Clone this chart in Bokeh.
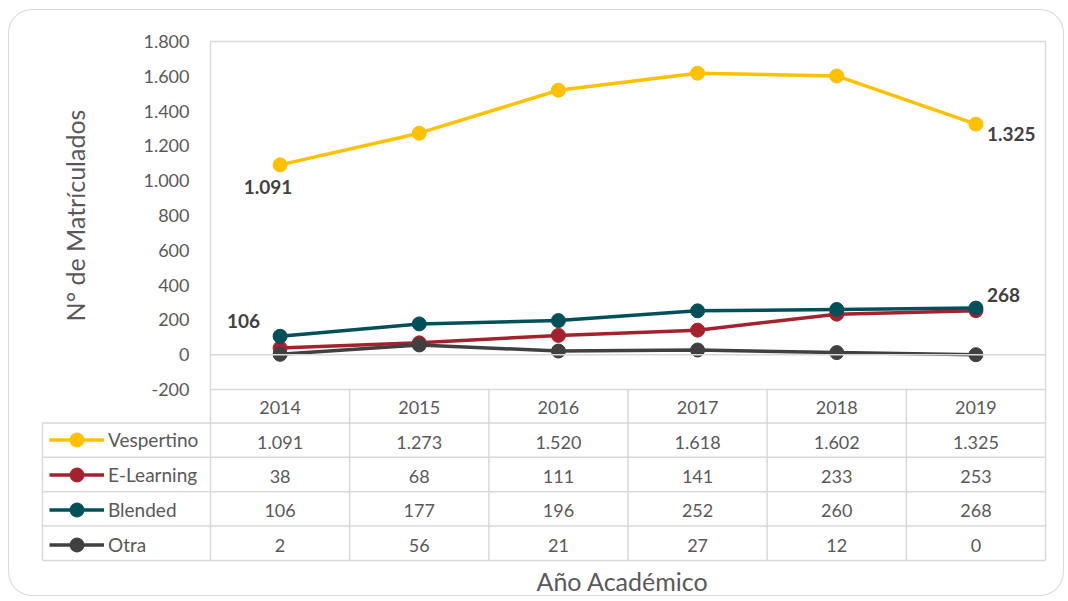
from bokeh.plotting import figure
from bokeh.models import (FactorRange, Range1d, FixedTicker, CustomJSTickFormatter, Span,
                          Legend, LegendItem, ColumnDataSource, Title)
from bokeh.core.properties import value
from bokeh.embed import file_html
from bokeh.resources import INLINE

# ---------------- data ----------------
years = ["2014", "2015", "2016", "2017", "2018", "2019"]
series_names = ["Vespertino", "E-Learning", "Blended", "Otra"]
vespertino = [1091, 1273, 1520, 1618, 1602, 1325]
elearning = [38, 68, 111, 141, 233, 253]
blended = [106, 177, 196, 252, 260, 268]
otra = [2, 56, 21, 27, 12, 0]
y_ticks = [-200, 0, 200, 400, 600, 800, 1000, 1200, 1400, 1600, 1800]
y_title = "N° de Matrículados"
x_title = "Año Académico"

series = [vespertino, elearning, blended, otra]
colors = ["#FFC000", "#A5212E", "#00505A", "#404040"]

FONT = "Lato"
GRID = "#d9d9d9"
TXT = "#595959"
FS = "18px"


def fmt(v):
    return f"{v:,}".replace(",", ".")


# ================= top: line chart =================
top = figure(width=1056, height=390, title=None,
             x_range=FactorRange(factors=years), y_range=Range1d(-200, 1800),
             output_backend="svg", toolbar_location=None,
             min_border_left=201, min_border_right=20, min_border_top=31, min_border_bottom=11)
top.styles = {"border": "1px solid #d9d9d9", "border-bottom": "0px",
              "border-radius": "24px 24px 0 0", "margin-left": "8px", "margin-top": "9px"}
top.border_fill_color = None
top.outline_line_color = GRID
top.outline_line_width = 1.5
top.xgrid.visible = False
top.ygrid.visible = False
top.xaxis.visible = False

top.yaxis.ticker = FixedTicker(ticks=y_ticks)
top.yaxis.formatter = CustomJSTickFormatter(code="""
const a = Math.abs(tick).toFixed(0).replace(/\\B(?=(\\d{3})+(?!\\d))/g, ".");
return (tick < 0 ? "-" : "") + a;
""")
top.yaxis.axis_line_color = None
top.yaxis.major_tick_line_color = None
top.yaxis.minor_tick_line_color = None
top.yaxis.major_tick_out = 0
top.yaxis.major_label_standoff = 21
top.yaxis.major_label_text_font = FONT
top.yaxis.major_label_text_font_size = FS
top.yaxis.major_label_text_color = TXT
top.yaxis.axis_label = y_title
top.yaxis.axis_label_standoff = 50
top.yaxis.axis_label_text_font = FONT
top.yaxis.axis_label_text_font_size = "25px"
top.yaxis.axis_label_text_font_style = "normal"
top.yaxis.axis_label_text_color = TXT

top.add_layout(Span(location=0, dimension="width", line_color=GRID, line_width=1.5))

for vals, col in zip(series, colors):
    src = ColumnDataSource(dict(x=years, y=vals))
    top.line("x", "y", source=src, line_color=col, line_width=3.5)
    top.scatter("x", "y", source=src, size=14, fill_color=col, line_color=col)

lab_kw = dict(text_font=value(FONT), text_font_size="19px", text_font_style="bold",
              text_color="#404040", text_baseline="middle")
top.text(x=[years[0]], y=[vespertino[0]], text=[fmt(vespertino[0])], text_align="center",
         x_offset=-12, y_offset=22, **lab_kw)
top.text(x=[years[-1]], y=[vespertino[-1]], text=[fmt(vespertino[-1])], text_align="left",
         x_offset=11, y_offset=10, **lab_kw)
top.text(x=[years[0]], y=[blended[0]], text=[fmt(blended[0])], text_align="right",
         x_offset=-20, y_offset=-15, **lab_kw)
top.text(x=[years[-1]], y=[blended[-1]], text=[fmt(blended[-1])], text_align="left",
         x_offset=11, y_offset=-13, **lab_kw)

# ================= bottom: data table =================
PX_COL = 835 / 6.0      # pixels per table column
PX_ROW = 34.8           # pixels per table row
LEG_W = 168 / PX_COL    # legend column width in column units
n_rows = len(series) + 1

bot = figure(width=1056, height=208, title=None,
             x_range=Range1d(-LEG_W - 2 / PX_COL, len(years) + 2 / PX_COL),
             y_range=Range1d(n_rows - 176 / PX_ROW, n_rows),
             output_backend="svg", toolbar_location=None,
             min_border_left=31, min_border_right=18, min_border_top=0, min_border_bottom=32)
bot.styles = {"border": "1px solid #d9d9d9", "border-top": "0px",
              "border-radius": "0 0 24px 24px", "margin-left": "8px", "margin-top": "-11px"}
bot.border_fill_color = None
bot.background_fill_color = None
bot.outline_line_color = None
bot.xgrid.visible = False
bot.ygrid.visible = False
bot.xaxis.visible = False
bot.yaxis.visible = False

xc = [i + 0.5 for i in range(len(years))]
vx = list(range(len(years) + 1))
bot.segment(x0=vx, x1=vx, y0=[0] * len(vx), y1=[n_rows] * len(vx), line_color=GRID, line_width=1.5)
bot.segment(x0=[-LEG_W], x1=[-LEG_W], y0=[0], y1=[n_rows - 1], line_color=GRID, line_width=1.5)
hy = list(range(n_rows))
bot.segment(x0=[-LEG_W] * len(hy), x1=[len(years)] * len(hy), y0=hy, y1=hy,
            line_color=GRID, line_width=1.5)

cell_kw = dict(text_align="center", text_baseline="middle", y_offset=2,
               text_font=value(FONT), text_font_size=FS, text_color=TXT)
bot.text(x=xc, y=[n_rows - 0.5] * len(years), text=years, **cell_kw)
items = []
for k, (name, vals, col) in enumerate(zip(series_names, series, colors)):
    ry = n_rows - 1.5 - k
    bot.text(x=xc, y=[ry] * len(vals), text=[fmt(v) for v in vals], **cell_kw)
    swatch = ColumnDataSource(dict(x=[float("nan")], y=[float("nan")]))
    lr = bot.line("x", "y", source=swatch, line_color=col, line_width=3.5)
    sr = bot.scatter("x", "y", source=swatch, size=12, fill_color=col, line_color=col)
    items.append(LegendItem(label=name, renderers=[lr, sr]))

legend = Legend(items=items, location=(9, 0), orientation="vertical",
                glyph_width=55, glyph_height=35, label_height=35, label_standoff=4,
                spacing=0, padding=0, margin=0, border_line_color=None,
                background_fill_alpha=0, label_text_font=FONT, label_text_font_size="19px",
                label_text_color=TXT)
bot.add_layout(legend)

bot.add_layout(Title(text=x_title, align="left", offset=496, standoff=2,
                     text_font=FONT, text_font_size="25px", text_font_style="normal",
                     text_color=TXT), "below")

open("out.html", "w").write(file_html([top, bot], INLINE))
